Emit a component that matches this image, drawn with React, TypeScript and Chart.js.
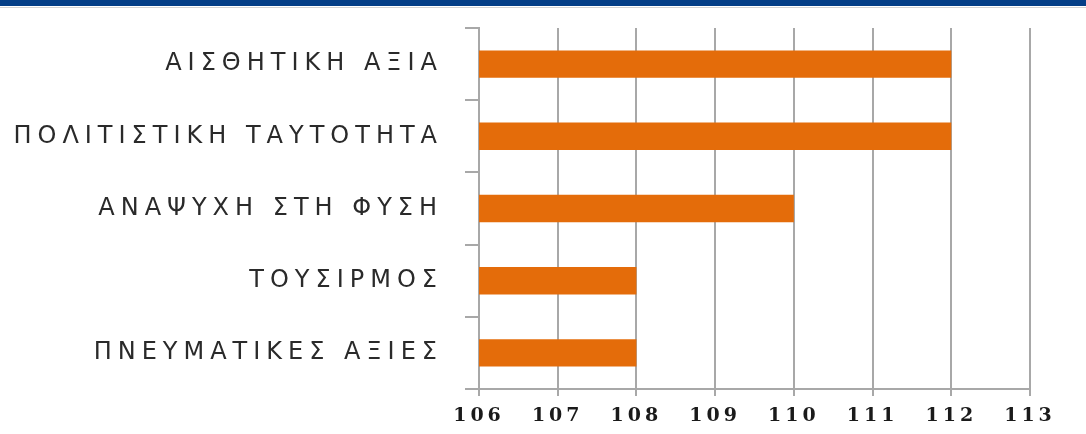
import React, { useEffect, useRef } from "react";
import { Chart, registerables } from "chart.js";

Chart.register(...registerables);

const categories: string[] = [
  "ΑΙΣΘΗΤΙΚΗ ΑΞΙΑ",
  "ΠΟΛΙΤΙΣΤΙΚΗ ΤΑΥΤΟΤΗΤΑ",
  "ΑΝΑΨΥΧΗ ΣΤΗ ΦΥΣΗ",
  "ΤΟΥΣΙΡΜΟΣ",
  "ΠΝΕΥΜΑΤΙΚΕΣ ΑΞΙΕΣ",
];
const values: number[] = [112, 112, 110, 108, 108];
const axisMin = 106;
const axisMax = 113;

const spacingPlugin = {
  id: "spacing",
  beforeUpdate(chart: any) {
    chart.ctx.letterSpacing = "6px";
  },
  beforeDraw(chart: any) {
    chart.ctx.letterSpacing = "4px";
  },
  afterDatasetsDraw(chart: any) {
    chart.ctx.letterSpacing = "6px";
  },
};

export default function App() {
  const ref = useRef<HTMLCanvasElement | null>(null);
  useEffect(() => {
    document.body.style.margin = "0";
    const canvas = ref.current!;
    const chart = new Chart(canvas, {
      type: "bar",
      data: {
        labels: categories,
        datasets: [
          {
            data: values,
            backgroundColor: "#E46C0A",
            borderWidth: 0,
            categoryPercentage: 1,
            barPercentage: 0.38,
          },
        ],
      },
      plugins: [spacingPlugin],
      options: {
        indexAxis: "y",
        responsive: false,
        animation: false,
        layout: { padding: { top: 28, right: 56, bottom: 0, left: 0 } },
        plugins: { legend: { display: false }, tooltip: { enabled: false } },
        scales: {
          x: {
            type: "linear",
            min: axisMin,
            max: axisMax,
            afterFit: (s: any) => {
              s.height = 45;
              s.paddingLeft = 0;
              s.paddingRight = 0;
            },
            ticks: {
              stepSize: 1,
              padding: 9,
              color: "#1a1a1a",
              font: { family: "'DejaVu Serif'", size: 19, weight: "bold" },
            },
            grid: {
              color: "#a8a8a8",
              lineWidth: 2,
              drawTicks: true,
              tickLength: 7,
            },
            border: { display: true, color: "#a8a8a8", width: 2 },
          },
          y: {
            type: "category",
            afterFit: (s: any) => {
              s.width = 479;
              s.paddingTop = 0;
              s.paddingBottom = 0;
            },
            ticks: {
              padding: 22,
              color: "#2a2a2a",
              z: 1,
              font: { family: "'DejaVu Sans'", size: 24 },
            },
            grid: {
              offset: true,
              drawOnChartArea: false,
              drawTicks: true,
              tickLength: 14,
              color: "#a8a8a8",
              lineWidth: 2,
            },
            border: { display: true, color: "#a8a8a8", width: 2 },
          },
        },
      },
    });
    return () => chart.destroy();
  }, []);
  return (
    <div style={{ position: "relative", width: 1086, height: 434, background: "#fff" }}>
      <canvas ref={ref} width={1086} height={434} style={{ display: "block" }} />
      <div style={{ position: "absolute", left: 0, top: 0, width: 1086, height: 6, background: "#043E87" }} />
      <div style={{ position: "absolute", left: 0, top: 7, width: 1086, height: 1, background: "#d4d4d4" }} />
    </div>
  );
}
